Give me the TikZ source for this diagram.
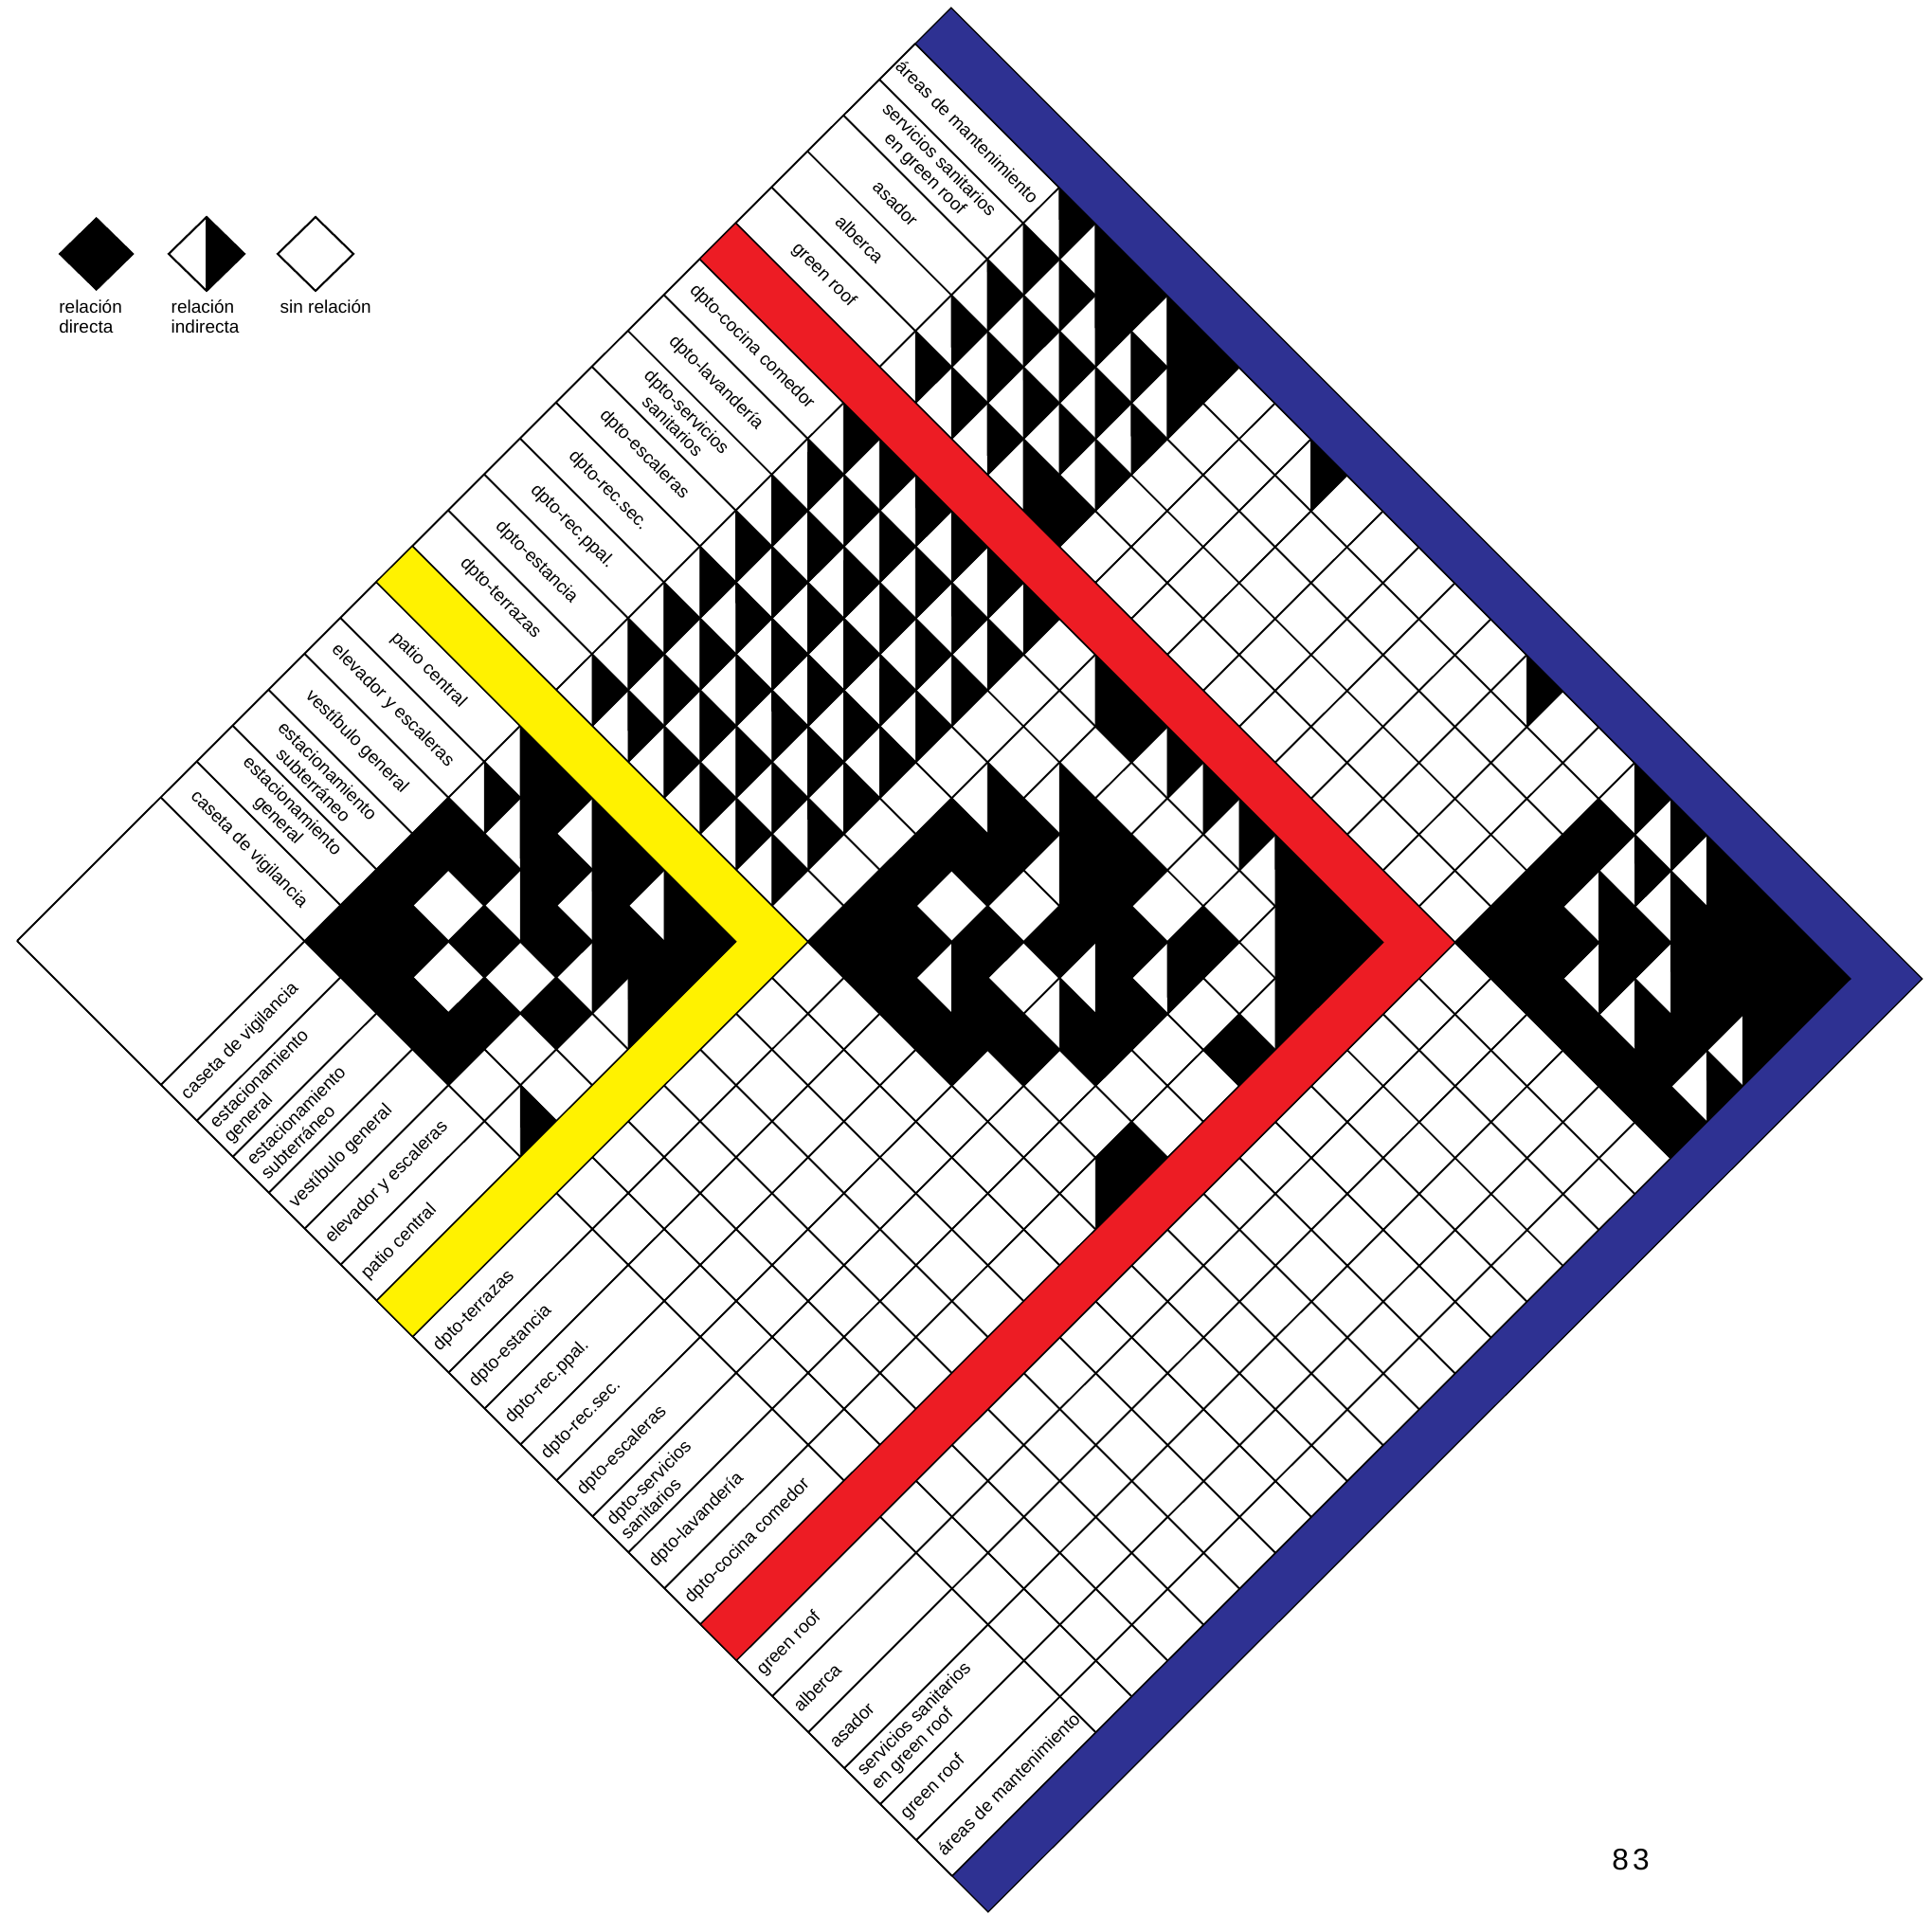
\documentclass[tikz,border=0pt]{standalone}
\usepackage{fontspec}
\setmainfont{Liberation Sans}
\definecolor{myyellow}{RGB}{255,242,0}
\definecolor{myred}{RGB}{237,28,36}
\definecolor{myblue}{RGB}{46,49,146}
\newcommand{\labfont}{\fontsize{5.4}{6.0}\selectfont}
\newcommand{\bcell}[2]{\filldraw[blk] (#1,#2) -- ++(1,0) -- ++(0,1) -- ++(-1,0) -- cycle;}
\newcommand{\hcell}[2]{\filldraw[blk] (#1+1,#2) -- (#1+1,#2+1) -- (#1,#2+1) -- cycle;}
\tikzset{
  gridline/.style={line width=0.55pt, black},
  blk/.style={fill=black, draw=black, line width=0.2pt},
  band/.style={draw=black, line width=0.35pt},
  toplab/.style={rotate=-45, font=\labfont, align=center, inner sep=0pt},
  botlab/.style={rotate=45, anchor=west, font=\labfont, align=left, inner sep=0pt},
  leg/.style={anchor=north west, font=\labfont, align=left, inner sep=0pt}
}
\begin{document}
\begin{tikzpicture}
\useasboundingbox (0,0) rectangle (20.39,20.20);
\fill[white] (0,0) rectangle (20.39,20.20);
\begin{scope}[shift={(3.215cm,10.267cm)}, x={(0.3792cm,0.3788cm)}, y={(0.3796cm,-0.3796cm)}]
  % lines
  \foreach \k in {0,...,21} \draw[gridline] (\k,-4) -- (\k,22);
  \foreach \k in {0,...,22} \draw[gridline] (-4,\k) -- (21,\k);
  \draw[gridline] (-4,-4) -- (21,-4);
  \draw[gridline] (-4,-4) -- (-4,22);
  % block 1 x 1
  \foreach \a/\b in {0/0,0/1,0/2,0/3,1/0,1/1,1/3,2/0,2/2,2/4,3/0,3/1,3/3,4/2,4/4,4/5,5/1,5/3,5/5} {\bcell{\a}{\b}}
  \foreach \a/\b in {0/5,3/2,3/4,3/5,4/0,4/1,4/3,5/0,5/2,5/4} {\hcell{\a}{\b}}
  % block 2 x 1
  \foreach \a in {7,...,14} {\foreach \b in {0,...,5} {\hcell{\a}{\b}}}
  % block 3 x 1
  \foreach \a in {16,...,19} {\foreach \b in {0,...,3} {\hcell{\a}{\b}}}
  \foreach \a/\b in {17/4,18/4,19/4,20/0,20/1,20/3,20/7,20/13} {\hcell{\a}{\b}}
  \foreach \a/\b in {16/4,20/2,20/4} {\bcell{\a}{\b}}
  % block 2 x 2
  \foreach \a/\b in {7/7,7/8,7/9,7/10, 8/7,8/8,8/10,8/11,8/14, 9/7,9/9,9/12, 10/7,10/8,10/10,10/12,
                     11/8,11/10,11/11,11/14, 12/9,12/10,12/12, 13/14, 14/8,14/13,14/14} {\bcell{\a}{\b}}
  \foreach \a/\b in {7/14, 8/9, 9/11, 10/11, 11/7,11/9,11/12, 12/8,12/14, 13/13, 14/7,14/9,14/10,14/11,14/12} {\hcell{\a}{\b}}
  % block 3 x 3
  \foreach \a/\b in {16/16,16/17,16/18,16/19,16/20,16/21, 17/16,17/17,17/20, 18/16,18/18,18/20,
                     19/16,19/19,19/20,19/21, 20/19,20/20,20/21} {\bcell{\a}{\b}}
  \foreach \a/\b in {17/18,17/19,17/21, 18/17,18/19,18/21, 19/17,19/18, 20/16,20/17,20/18} {\hcell{\a}{\b}}
  % bands
  \filldraw[band, fill=myyellow] (6,-4) -- (7,-4) -- (7,7) -- (-4,7) -- (-4,6) -- (6,6) -- cycle;
  \filldraw[band, fill=myred] (15,-4) -- (16,-4) -- (16,16) -- (-4,16) -- (-4,15) -- (15,15) -- cycle;
  \filldraw[band, fill=myblue] (21,-4) -- (22,-4) -- (22,23) -- (-4,23) -- (-4,22) -- (21,22) -- cycle;
  % top labels
  \node[toplab] (t0) at (0.5,-2.05) {caseta de vigilancia};
  \node[toplab] (t1) at (1.5,-2.05) {estacionamiento\\general};
  \node[toplab] (t2) at (2.5,-2.05) {estacionamiento\\subterráneo};
  \node[toplab] (t3) at (3.5,-2.05) {vestíbulo general};
  \node[toplab] (t4) at (4.5,-2.05) {elevador y escaleras};
  \node[toplab] (t5) at (5.5,-2.05) {patio central};
  \node[toplab] (t6) at (7.5,-2.05) {dpto-terrazas};
  \node[toplab] (t7) at (8.5,-2.05) {dpto-estancia};
  \node[toplab] (t8) at (9.5,-2.05) {dpto-rec.ppal.};
  \node[toplab] (t9) at (10.5,-2.05) {dpto-rec.sec.};
  \node[toplab] (t10) at (11.5,-2.05) {dpto-escaleras};
  \node[toplab] (t11) at (12.5,-2.05) {dpto-servicios\\sanitarios};
  \node[toplab] (t12) at (13.5,-2.05) {dpto-lavandería};
  \node[toplab] (t13) at (14.5,-2.05) {dpto-cocina comedor};
  \node[toplab] (t14) at (16.5,-2.05) {green roof};
  \node[toplab] (t15) at (17.5,-2.05) {alberca};
  \node[toplab] (t16) at (18.5,-2.05) {asador};
  \node[toplab] (t17) at (19.5,-2.05) {servicios sanitarios\\en green roof};
  \node[toplab] (t18) at (20.5,-2.05) {áreas de mantenimiento};
  % bottom labels
  \node[botlab] (b0) at (-3.85,0.5) {caseta de vigilancia};
  \node[botlab] (b1) at (-3.85,1.5) {estacionamiento\\general};
  \node[botlab] (b2) at (-3.85,2.5) {estacionamiento\\subterráneo};
  \node[botlab] (b3) at (-3.85,3.5) {vestíbulo general};
  \node[botlab] (b4) at (-3.85,4.5) {elevador y escaleras};
  \node[botlab] (b5) at (-3.85,5.5) {patio central};
  \node[botlab] (b6) at (-3.85,7.5) {dpto-terrazas};
  \node[botlab] (b7) at (-3.85,8.5) {dpto-estancia};
  \node[botlab] (b8) at (-3.85,9.5) {dpto-rec.ppal.};
  \node[botlab] (b9) at (-3.85,10.5) {dpto-rec.sec.};
  \node[botlab] (b10) at (-3.85,11.5) {dpto-escaleras};
  \node[botlab] (b11) at (-3.85,12.5) {dpto-servicios\\sanitarios};
  \node[botlab] (b12) at (-3.85,13.5) {dpto-lavandería};
  \node[botlab] (b13) at (-3.85,14.5) {dpto-cocina comedor};
  \node[botlab] (b14) at (-3.85,16.5) {green roof};
  \node[botlab] (b15) at (-3.85,17.5) {alberca};
  \node[botlab] (b16) at (-3.85,18.5) {asador};
  \node[botlab] (b17) at (-3.85,19.5) {servicios sanitarios\\en green roof};
  \node[botlab] (b18) at (-3.85,20.5) {green roof};
  \node[botlab] (b19) at (-3.85,21.5) {áreas de mantenimiento};
\end{scope}
% legend
\fill[black] (0.617,17.52) -- (1.017,17.91) -- (1.417,17.52) -- (1.017,17.13) -- cycle;
\fill[black] (2.18,17.91) -- (2.58,17.52) -- (2.18,17.13) -- cycle;
\draw[line width=0.6pt] (1.78,17.52) -- (2.18,17.91) -- (2.58,17.52) -- (2.18,17.13) -- cycle;
\draw[line width=0.6pt] (2.18,17.91) -- (2.18,17.13);
\draw[line width=0.6pt] (2.93,17.52) -- (3.33,17.91) -- (3.73,17.52) -- (3.33,17.13) -- cycle;
\node[leg] (l1) at (0.617,17.04) {relación\\directa};
\node[leg] (l2) at (1.80,17.04) {relación\\indirecta};
\node[leg] (l3) at (2.95,17.04) {sin relación};
\node[font=\fontsize{9}{11}\selectfont] (pg) at (17.21,0.57) {8\kern1.2pt3};
\end{tikzpicture}
\end{document}
